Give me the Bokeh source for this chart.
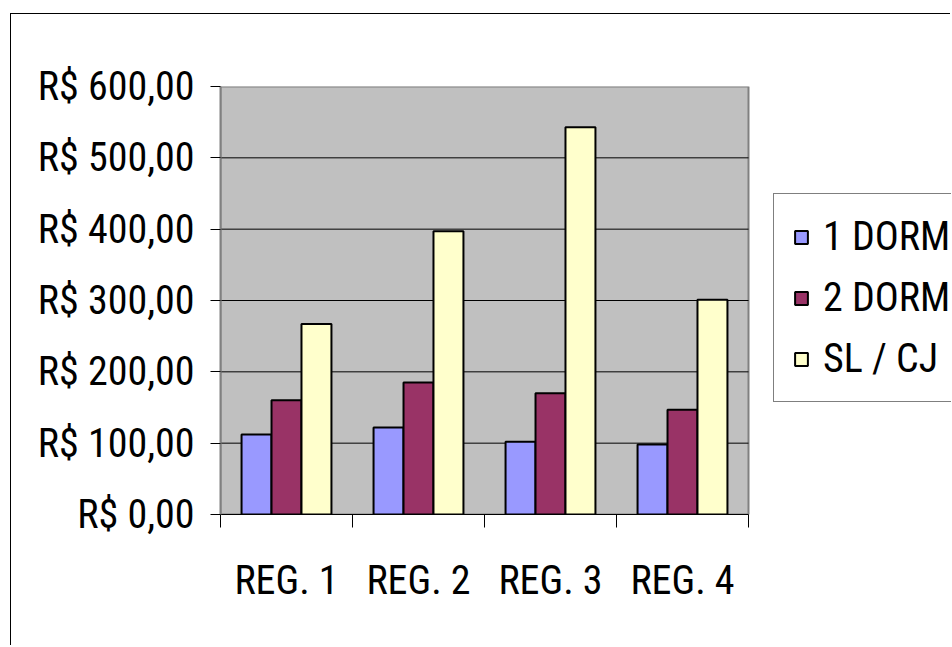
from bokeh.plotting import figure
from bokeh.models import (ColumnDataSource, Range1d, FixedTicker, Legend, LegendItem,
                          CustomJSTickFormatter)
from bokeh.transform import dodge
from bokeh.embed import file_html
from bokeh.resources import INLINE

categories = ["REG. 1", "REG. 2", "REG. 3", "REG. 4"]
dorm1 = [112, 122, 102, 98]
dorm2 = [160, 185, 170, 147]
slcj = [267, 397, 543, 301]
series_names = ["1 DORM", "2 DORM", "SL / CJ"]
colors = ["#9999FF", "#993366", "#FFFFCC"]
y_ticks = [0, 100, 200, 300, 400, 500, 600]
y_tick_labels = ["R$ 0,00", "R$ 100,00", "R$ 200,00", "R$ 300,00",
                 "R$ 400,00", "R$ 500,00", "R$ 600,00"]

FONT = "Roboto Condensed"
FS = "40px"

n = len(categories)
centers = [i + 0.5 for i in range(n)]
source = ColumnDataSource(dict(x=centers, d1=dorm1, d2=dorm2, sl=slcj))

W, H = 940, 632
LEFT, TOP, BOTTOM = 209, 72, 132
PLOT_W = 528                      # width in px of the grey plot area
FRAME_W = W - LEFT                # frame runs to the right edge so the legend is not clipped
x_end = n * FRAME_W / PLOT_W

p = figure(width=W, height=H, output_backend="svg", toolbar_location=None,
           x_range=Range1d(0, x_end), y_range=Range1d(0, y_ticks[-1]),
           min_border_left=LEFT, min_border_top=TOP, min_border_right=0,
           min_border_bottom=BOTTOM)
p.styles = {"margin-left": "10px", "margin-top": "13px",
            "border-left": "1px solid #000000", "border-top": "1px solid #000000"}

p.background_fill_color = "#FFFFFF"
p.border_fill_color = "#FFFFFF"
p.outline_line_color = None

# grey plot area
p.quad(left=[0], right=[n], bottom=[y_ticks[0]], top=[y_ticks[-1]],
       fill_color="#C0C0C0", line_color="#808080", line_width=2)
# horizontal gridlines inside the plot area
grid_vals = y_ticks[1:-1]
p.segment(x0=[0] * len(grid_vals), x1=[n] * len(grid_vals), y0=grid_vals, y1=grid_vals,
          line_color="#000000", line_width=1)

bw = 0.227
renderers = []
for field, off, col in zip(["d1", "d2", "sl"], [-bw, 0, bw], colors):
    r = p.vbar(x=dodge("x", off, range=p.x_range), top=field, width=bw, source=source,
               fill_color=col, line_color="#000000", line_width=2)
    renderers.append(r)

# axes
p.xaxis.bounds = (0, n)
p.xaxis.ticker = FixedTicker(ticks=centers, minor_ticks=list(range(n + 1)))
p.xaxis.formatter = CustomJSTickFormatter(args=dict(labels=categories),
                                          code="return labels[Math.floor(tick)] || '';")
p.xaxis.major_tick_out = 0
p.xaxis.major_tick_in = 0
p.xaxis.minor_tick_out = 13
p.xaxis.minor_tick_in = 0
p.xaxis.minor_tick_line_color = "#000000"
p.xaxis.axis_line_color = "#000000"
p.xaxis.major_label_text_font = FONT
p.xaxis.major_label_text_font_size = FS
p.xaxis.major_label_text_color = "#000000"
p.xaxis.major_label_standoff = 29

p.yaxis.ticker = FixedTicker(ticks=y_ticks)
p.yaxis.formatter = CustomJSTickFormatter(args=dict(labels=y_tick_labels, vals=y_ticks),
                                          code="const i = vals.indexOf(tick); return i >= 0 ? labels[i] : '';")
p.yaxis.major_tick_out = 10
p.yaxis.major_tick_in = 0
p.yaxis.minor_tick_line_color = None
p.yaxis.major_tick_line_color = "#000000"
p.yaxis.axis_line_color = "#808080"
p.yaxis.axis_line_width = 2
p.yaxis.major_label_text_font = FONT
p.yaxis.major_label_text_font_size = FS
p.yaxis.major_label_text_color = "#000000"
p.yaxis.major_label_standoff = 16

p.xgrid.grid_line_color = None
p.ygrid.grid_line_color = None

legend = Legend(items=[LegendItem(label=s, renderers=[r]) for s, r in zip(series_names, renderers)],
                location=(PLOT_W + 25, 112), orientation="vertical")
legend.label_text_font = FONT
legend.label_text_font_size = FS
legend.label_text_color = "#000000"
legend.glyph_width = 16
legend.glyph_height = 16
legend.label_standoff = 14
legend.spacing = 14
legend.padding = 19
legend.margin = 0
legend.border_line_color = "#000000"
legend.border_line_width = 1
legend.background_fill_color = "#FFFFFF"
legend.background_fill_alpha = 1
p.add_layout(legend, "center")

open("out.html", "w").write(file_html(p, INLINE))
